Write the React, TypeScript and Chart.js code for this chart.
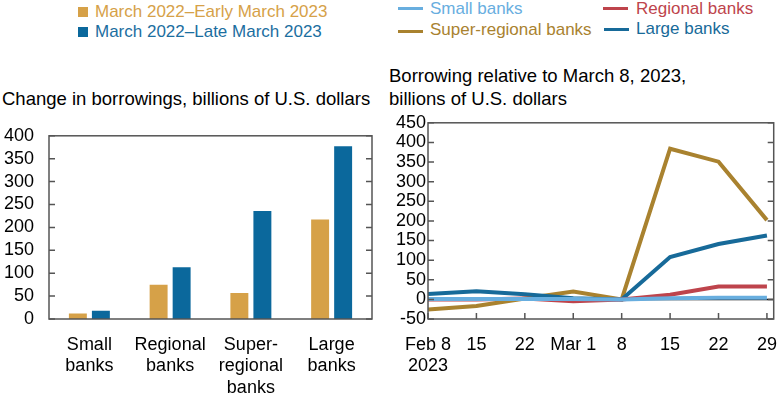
import React, { useEffect, useRef } from "react";
import { Chart, registerables } from "chart.js";
Chart.register(...registerables);

// ---------- Data ----------
const barCategories = [["Small", "banks"], ["Regional", "banks"], ["Super-", "regional", "banks"], ["Large", "banks"]];
const earlyMarchValues = [12, 75, 57, 217];
const lateMarchValues = [18, 113, 236, 377];
const barSeriesNames = ["March 2022\u2013Early March 2023", "March 2022\u2013Late March 2023"];
const barYTicks = [0, 50, 100, 150, 200, 250, 300, 350, 400];

const dateLabels = [["Feb 8", "2023"], "15", "22", "Mar 1", "8", "15", "22", "29"];
const smallBanks = [1, 1, 1, 1, 0, 3, 4, 4];
const regionalBanks = [0, 0, 2, -5, 0, 12, 33, 33];
const superRegionalBanks = [-26, -17, 2, 20, 0, 384, 351, 202];
const largeBanks = [14, 21, 13, 3, 0, 108, 141, 163];
const lineSeriesNames = ["Small banks", "Regional banks", "Super-regional banks", "Large banks"];
const lineYTicks = [-50, 0, 50, 100, 150, 200, 250, 300, 350, 400, 450];

// ---------- Styles ----------
const FONT = "'Liberation Sans', Arial, sans-serif";
const GOLD_BAR = "#D6A148";
const BLUE_BAR = "#0B689C";
const C_SMALL = "#68AEDF";
const C_REGIONAL = "#BE444C";
const C_SUPER = "#A9822F";
const C_LARGE = "#176A99";

const framePlugin = {
  id: "frameTicks",
  beforeDatasetsDraw(chart: any, _a: any, opts: any) {
    if (!opts.zeroLine) return;
    const { ctx, chartArea } = chart;
    const y = chart.scales.y.getPixelForValue(0);
    ctx.save();
    ctx.strokeStyle = "#000";
    ctx.lineWidth = 1.5;
    ctx.beginPath();
    ctx.moveTo(chartArea.left, y);
    ctx.lineTo(chartArea.right, y);
    ctx.stroke();
    ctx.restore();
  },
  afterDraw(chart: any, _a: any, opts: any) {
    const { ctx, chartArea } = chart;
    const len = 6;
    ctx.save();
    ctx.strokeStyle = "#555";
    ctx.lineWidth = 1.5;
    ctx.strokeRect(chartArea.left, chartArea.top, chartArea.right - chartArea.left, chartArea.bottom - chartArea.top);
    ctx.beginPath();
    const ys = chart.scales.y;
    ys.ticks.forEach((t: any) => {
      const y = ys.getPixelForValue(t.value);
      ctx.moveTo(chartArea.left, y);
      ctx.lineTo(chartArea.left + len, y);
      ctx.moveTo(chartArea.right - len, y);
      ctx.lineTo(chartArea.right, y);
    });
    if (opts.xTicks) {
      const xs = chart.scales.x;
      xs.ticks.forEach((t: any) => {
        const x = xs.getPixelForValue(t.value);
        ctx.moveTo(x, chartArea.bottom);
        ctx.lineTo(x, chartArea.bottom - len);
      });
    }
    ctx.stroke();
    ctx.restore();
  },
};

function BarChart() {
  const ref = useRef<HTMLCanvasElement>(null);
  useEffect(() => {
    const chart = new Chart(ref.current as HTMLCanvasElement, {
      type: "bar",
      data: {
        labels: barCategories as any,
        datasets: [
          { label: barSeriesNames[0], data: earlyMarchValues, backgroundColor: GOLD_BAR, categoryPercentage: 0.57, barPercentage: 0.78 },
          { label: barSeriesNames[1], data: lateMarchValues, backgroundColor: BLUE_BAR, categoryPercentage: 0.57, barPercentage: 0.78 },
        ],
      },
      plugins: [framePlugin],
      options: {
        animation: false,
        responsive: false,
        maintainAspectRatio: false,
        layout: { padding: { top: 12, right: 13, left: 0, bottom: 0 } },
        plugins: { legend: { display: false }, tooltip: { enabled: false }, frameTicks: { xTicks: false } } as any,
        scales: {
          x: {
            grid: { display: false, drawTicks: false },
            border: { display: false },
            ticks: { color: "#000", font: { family: FONT, size: 18 }, padding: 15, maxRotation: 0, autoSkip: false },
            afterFit: (s: any) => { s.height = 79; },
          },
          y: {
            min: 0,
            max: 400,
            grid: { display: false, drawTicks: false },
            border: { display: false },
            afterBuildTicks: (s: any) => { s.ticks = barYTicks.map((v) => ({ value: v })); },
            ticks: { color: "#000", font: { family: FONT, size: 18 }, padding: 15, autoSkip: false },
            afterFit: (s: any) => { s.width = 49; },
          },
        },
      },
    });
    return () => chart.destroy();
  }, []);
  return <canvas ref={ref} width={385} height={288} style={{ position: "absolute", left: 0, top: 110, width: 385, height: 288 }} />;
}

function LineChart() {
  const ref = useRef<HTMLCanvasElement>(null);
  useEffect(() => {
    const toPts = (arr: number[]) => arr.map((v, i) => ({ x: i, y: v }));
    const mk = (label: string, arr: number[], color: string) => ({
      label, data: toPts(arr), borderColor: color, backgroundColor: color, borderWidth: 4, pointRadius: 0, tension: 0, fill: false,
    });
    const chart = new Chart(ref.current as HTMLCanvasElement, {
      type: "line",
      data: {
        datasets: [
          mk(lineSeriesNames[0], smallBanks, C_SMALL),
          mk(lineSeriesNames[1], regionalBanks, C_REGIONAL),
          mk(lineSeriesNames[3], largeBanks, C_LARGE),
          mk(lineSeriesNames[2], superRegionalBanks, C_SUPER),
        ],
      },
      plugins: [framePlugin],
      options: {
        animation: false,
        responsive: false,
        maintainAspectRatio: false,
        layout: { padding: { top: 11, right: 3, left: 0, bottom: 0 } },
        plugins: { legend: { display: false }, tooltip: { enabled: false }, frameTicks: { xTicks: true, zeroLine: true } } as any,
        scales: {
          x: {
            type: "linear",
            min: 0,
            max: dateLabels.length - 1 + 0.14,
            grid: { display: false, drawTicks: false },
            border: { display: false },
            afterBuildTicks: (s: any) => { s.ticks = dateLabels.map((_, i) => ({ value: i })); },
            ticks: {
              color: "#000", font: { family: FONT, size: 18 }, padding: 15, maxRotation: 0, autoSkip: false,
              callback: (v: any) => dateLabels[Math.round(Number(v))] as any,
            },
            afterFit: (s: any) => { s.height = 79; },
          },
          y: {
            min: -50,
            max: 450,
            grid: { display: false, drawTicks: false },
            border: { display: false },
            afterBuildTicks: (s: any) => { s.ticks = lineYTicks.map((v) => ({ value: v })); },
            ticks: { color: "#000", font: { family: FONT, size: 18 }, padding: 2, autoSkip: false },
            afterFit: (s: any) => { s.width = 43; },
          },
        },
      },
    });
    return () => chart.destroy();
  }, []);
  // canvas extends past the page edge so the plot frame can reach near the right border
  return <canvas ref={ref} width={407} height={288} style={{ position: "absolute", left: 385, top: 110, width: 407, height: 288 }} />;
}

const txt = (extra: React.CSSProperties): React.CSSProperties => ({
  position: "absolute", fontFamily: FONT, fontSize: 17, lineHeight: "20px", whiteSpace: "nowrap", ...extra,
});

export default function App() {
  return (
    <div style={{ position: "fixed", left: 0, top: 0, width: 780, height: 398, background: "#fff", overflow: "hidden" }}>
      {/* Left legend */}
      <div style={{ position: "absolute", left: 78, top: 7, width: 10, height: 10, background: GOLD_BAR }} />
      <div style={txt({ left: 95, top: 2, color: GOLD_BAR })}>{barSeriesNames[0]}</div>
      <div style={{ position: "absolute", left: 78, top: 27, width: 10, height: 10, background: BLUE_BAR }} />
      <div style={txt({ left: 95, top: 22, color: "#1B6E9F" })}>{barSeriesNames[1]}</div>

      {/* Right legend */}
      <div style={{ position: "absolute", left: 398, top: 7, width: 25, height: 3, background: C_SMALL }} />
      <div style={txt({ left: 430, top: -1, color: C_SMALL })}>{lineSeriesNames[0]}</div>
      <div style={{ position: "absolute", left: 398, top: 30, width: 25, height: 3, background: C_SUPER }} />
      <div style={txt({ left: 430, top: 20, color: C_SUPER })}>{lineSeriesNames[2]}</div>
      <div style={{ position: "absolute", left: 603, top: 7, width: 25, height: 3, background: C_REGIONAL }} />
      <div style={txt({ left: 636, top: -1, color: C_REGIONAL })}>{lineSeriesNames[1]}</div>
      <div style={{ position: "absolute", left: 604, top: 28, width: 25, height: 3, background: C_LARGE }} />
      <div style={txt({ left: 636, top: 19, color: C_LARGE })}>{lineSeriesNames[3]}</div>

      {/* Titles */}
      <div style={txt({ left: 2, top: 88, fontSize: 18.5, lineHeight: "22px", color: "#000" })}>
        Change in borrowings, billions of U.S. dollars
      </div>
      <div style={txt({ left: 389, top: 64, fontSize: 18.5, lineHeight: "23px", color: "#000" })}>
        Borrowing relative to March 8, 2023,<br />billions of U.S. dollars
      </div>

      <BarChart />
      <LineChart />
    </div>
  );
}
